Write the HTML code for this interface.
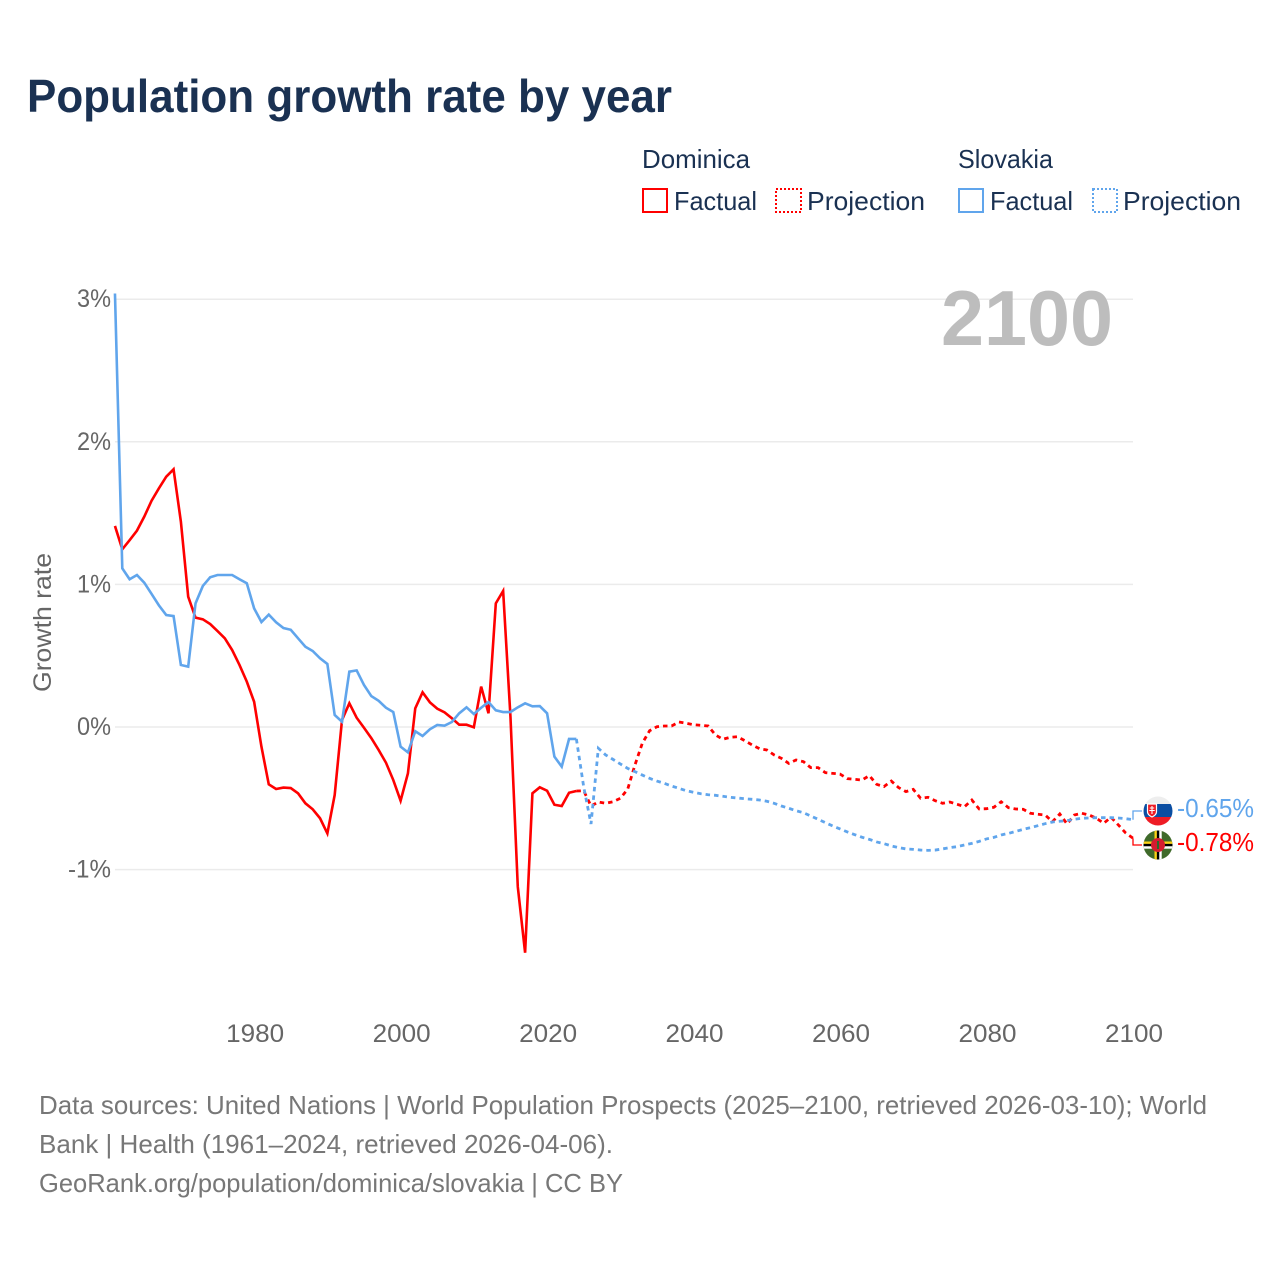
<!DOCTYPE html>
<html lang="en">
<head>
<meta charset="utf-8">
<title>Population growth rate by year</title>
<style>
html,body{margin:0;padding:0;background:#fff;}
svg{display:block;font-family:"Liberation Sans",sans-serif;}
</style>
</head>
<body>
<svg id="chart" xmlns="http://www.w3.org/2000/svg" width="1280" height="1280" viewBox="0 0 1280 1280">
  <text x="27" y="112" font-size="46" font-weight="700" fill="#1a3152" textLength="645" lengthAdjust="spacingAndGlyphs">Population growth rate by year</text>

  <g fill="#1a3152" font-size="26">
    <text x="642" y="168" textLength="108" lengthAdjust="spacingAndGlyphs">Dominica</text>
    <text x="958" y="168" textLength="95" lengthAdjust="spacingAndGlyphs">Slovakia</text>
    <g>
      <rect x="643" y="189" width="24" height="23" fill="none" stroke="#ff0000" stroke-width="2"/>
      <text x="674" y="210" textLength="83" lengthAdjust="spacingAndGlyphs">Factual</text>
    </g>
    <g>
      <rect x="776" y="189" width="25" height="23" fill="none" stroke="#ff0000" stroke-width="2" stroke-dasharray="2 2"/>
      <text x="807" y="210" textLength="118" lengthAdjust="spacingAndGlyphs">Projection</text>
    </g>
    <g>
      <rect x="959" y="189" width="24" height="23" fill="none" stroke="#60a5ec" stroke-width="2"/>
      <text x="990" y="210" textLength="83" lengthAdjust="spacingAndGlyphs">Factual</text>
    </g>
    <g>
      <rect x="1093" y="189" width="24" height="23" fill="none" stroke="#60a5ec" stroke-width="2" stroke-dasharray="2 2"/>
      <text x="1123" y="210" textLength="118" lengthAdjust="spacingAndGlyphs">Projection</text>
    </g>
  </g>

  <g id="grid"></g>
  <text x="941" y="345" font-size="78" font-weight="700" fill="#bdbdbd" textLength="172" lengthAdjust="spacingAndGlyphs">2100</text>
  <g id="yticks" fill="#666" font-size="25"></g>
  <g id="xticks" fill="#666" font-size="25"></g>
  <text transform="translate(51,692) rotate(-90)" font-size="25" fill="#666" textLength="139" lengthAdjust="spacingAndGlyphs">Growth rate</text>
  <g id="series"></g>

  <defs>
    <clipPath id="flag-sk-clip"><circle cx="1158" cy="811" r="14.5"/></clipPath>
    <clipPath id="flag-dm-clip"><circle cx="1158" cy="845" r="14.5"/></clipPath>
  </defs>
  <g id="connectors" fill="none" stroke-width="1.3"></g>
  <g clip-path="url(#flag-sk-clip)">
    <rect x="1143" y="796" width="30" height="8" fill="#eeeeee"/>
    <rect x="1143" y="804" width="30" height="13" fill="#0b4ea2"/>
    <rect x="1143" y="817" width="30" height="10" fill="#ee1c25"/>
    <path d="M1147.5 804h9v8c0 2.500-2.500 4-4.500 5c-2-1-4.500-2.500-4.500-5z" fill="#ee1c25" stroke="#fff" stroke-width="1.2"/>
    <path d="M1152 806v8M1149.800 808h4.400M1149.300 810.500h5.400" stroke="#fff" stroke-width="1.1" fill="none"/>
  </g>
  <g clip-path="url(#flag-dm-clip)">
    <rect x="1143" y="830" width="30" height="30" fill="#3f6a2a"/>
    <rect x="1154.500" y="830" width="2.400" height="30" fill="#fcd116"/>
    <rect x="1156.900" y="830" width="2.400" height="30" fill="#000"/>
    <rect x="1159.300" y="830" width="2.400" height="30" fill="#fff"/>
    <rect x="1143" y="841.500" width="30" height="2.400" fill="#fcd116"/>
    <rect x="1143" y="843.900" width="30" height="2.400" fill="#000"/>
    <rect x="1143" y="846.300" width="30" height="2.400" fill="#fff"/>
    <circle cx="1158" cy="845" r="7" fill="#d41c30"/>
    <rect x="1157" y="841" width="2" height="8" fill="#2a6a2a"/>
  </g>
  <text x="1177" y="817" font-size="26" fill="#60a5ec" textLength="77" lengthAdjust="spacingAndGlyphs">-0.65%</text>
  <text x="1177" y="851" font-size="26" fill="#ff0000" textLength="77" lengthAdjust="spacingAndGlyphs">-0.78%</text>

  <g fill="#777" font-size="26">
    <text x="39" y="1114" textLength="1168" lengthAdjust="spacingAndGlyphs">Data sources: United Nations | World Population Prospects (2025–2100, retrieved 2026-03-10); World</text>
    <text x="39" y="1153" textLength="574" lengthAdjust="spacingAndGlyphs">Bank | Health (1961–2024, retrieved 2026-04-06).</text>
    <text x="39" y="1192" textLength="584" lengthAdjust="spacingAndGlyphs">GeoRank.org/population/dominica/slovakia | CC BY</text>
  </g>
</svg>
<script>
const yTickValues = [3, 2, 1, 0, -1];
const xTickYears = [1980, 2000, 2020, 2040, 2060, 2080, 2100];
const factualStartYear = 1961;
const projectionStartYear = 2024;

const dominicaFactual = [1.41,1.246,1.31,1.377,1.475,1.587,1.674,1.755,1.807,1.44,0.914,0.767,0.755,0.722,0.673,0.622,0.54,0.435,0.318,0.177,-0.138,-0.402,-0.435,-0.425,-0.428,-0.465,-0.535,-0.577,-0.64,-0.746,-0.477,0.049,0.166,0.065,-0.005,-0.078,-0.161,-0.25,-0.372,-0.517,-0.325,0.131,0.243,0.173,0.129,0.103,0.061,0.016,0.016,-0.002,0.283,0.096,0.867,0.954,0.072,-1.12,-1.583,-0.465,-0.423,-0.447,-0.545,-0.554,-0.461,-0.449];
const dominicaProjection = [-0.449,-0.447,-0.554,-0.526,-0.535,-0.524,-0.5,-0.437,-0.266,-0.114,-0.026,0.002,0.007,0.007,0.035,0.026,0.016,0.012,0.007,-0.056,-0.086,-0.072,-0.068,-0.096,-0.126,-0.152,-0.161,-0.196,-0.22,-0.255,-0.231,-0.243,-0.285,-0.285,-0.32,-0.325,-0.33,-0.362,-0.367,-0.372,-0.341,-0.402,-0.418,-0.379,-0.425,-0.453,-0.437,-0.5,-0.493,-0.517,-0.535,-0.526,-0.542,-0.559,-0.512,-0.575,-0.573,-0.563,-0.524,-0.566,-0.575,-0.577,-0.605,-0.612,-0.617,-0.664,-0.61,-0.68,-0.617,-0.605,-0.617,-0.64,-0.675,-0.633,-0.687,-0.743,-0.78];
const slovakiaFactual = [3.04,1.113,1.036,1.066,1.012,0.933,0.853,0.785,0.778,0.435,0.423,0.867,0.989,1.05,1.066,1.066,1.066,1.036,1.008,0.832,0.736,0.788,0.734,0.694,0.682,0.622,0.563,0.533,0.482,0.442,0.084,0.037,0.388,0.397,0.295,0.217,0.184,0.135,0.105,-0.138,-0.178,-0.03,-0.063,-0.016,0.014,0.009,0.035,0.096,0.138,0.091,0.135,0.175,0.117,0.105,0.105,0.138,0.166,0.145,0.147,0.096,-0.208,-0.278,-0.084,-0.084];
const slovakiaProjection = [-0.084,-0.42,-0.68,-0.149,-0.196,-0.227,-0.259,-0.29,-0.313,-0.337,-0.36,-0.379,-0.395,-0.414,-0.43,-0.447,-0.458,-0.468,-0.475,-0.479,-0.486,-0.493,-0.498,-0.503,-0.507,-0.512,-0.521,-0.535,-0.554,-0.57,-0.587,-0.601,-0.624,-0.647,-0.671,-0.694,-0.715,-0.736,-0.755,-0.773,-0.788,-0.806,-0.818,-0.834,-0.846,-0.855,-0.858,-0.863,-0.865,-0.863,-0.855,-0.846,-0.839,-0.827,-0.816,-0.802,-0.785,-0.774,-0.757,-0.746,-0.732,-0.718,-0.706,-0.692,-0.678,-0.666,-0.661,-0.657,-0.647,-0.64,-0.638,-0.636,-0.636,-0.636,-0.638,-0.643,-0.65];

const NS = 'http://www.w3.org/2000/svg';
const RED = '#ff0000';
const BLUE = '#60a5ec';

function xScale(year) { return 1133 - (2100 - year) * 7.324; }
function yScale(value) { return 727 - value * 142.6; }

function linePath(values, startYear) {
  return values.map(function (v, i) {
    return (i ? 'L' : 'M') + xScale(startYear + i).toFixed(2) + ' ' + yScale(v).toFixed(2);
  }).join('');
}

const gridGroup = document.getElementById('grid');
const yTickGroup = document.getElementById('yticks');
yTickValues.forEach(function (v) {
  const line = document.createElementNS(NS, 'line');
  
  
  line.setAttribute('x1', xScale(factualStartYear));
  line.setAttribute('x2', xScale(2100));
  line.setAttribute('y1', yScale(v));
  line.setAttribute('y2', yScale(v));
  line.setAttribute('stroke', '#ebebeb');
  line.setAttribute('stroke-width', '1.5');
  gridGroup.appendChild(line);

  const label = document.createElementNS(NS, 'text');
  
  
  label.setAttribute('x', 111);
  label.setAttribute('y', yScale(v) + 8);
  label.setAttribute('text-anchor', 'end');
  label.setAttribute('textLength', v < 0 ? 43 : 34);
  label.setAttribute('lengthAdjust', 'spacingAndGlyphs');
  label.textContent = v + '%';
  yTickGroup.appendChild(label);
});

const xTickGroup = document.getElementById('xticks');
xTickYears.forEach(function (yr) {
  const label = document.createElementNS(NS, 'text');
  
  
  label.setAttribute('x', xScale(yr) + 1);
  label.setAttribute('y', 1042);
  label.setAttribute('text-anchor', 'middle');
  label.setAttribute('textLength', 58);
  label.setAttribute('lengthAdjust', 'spacingAndGlyphs');
  label.textContent = yr;
  xTickGroup.appendChild(label);
});

const seriesGroup = document.getElementById('series');

const dominicaFactualLine = document.createElementNS(NS, 'path');


dominicaFactualLine.setAttribute('d', linePath(dominicaFactual, factualStartYear));
dominicaFactualLine.setAttribute('fill', 'none');
dominicaFactualLine.setAttribute('stroke', RED);
dominicaFactualLine.setAttribute('stroke-width', '2.6');
seriesGroup.appendChild(dominicaFactualLine);

const slovakiaFactualLine = document.createElementNS(NS, 'path');


slovakiaFactualLine.setAttribute('d', linePath(slovakiaFactual, factualStartYear));
slovakiaFactualLine.setAttribute('fill', 'none');
slovakiaFactualLine.setAttribute('stroke', BLUE);
slovakiaFactualLine.setAttribute('stroke-width', '2.6');
seriesGroup.appendChild(slovakiaFactualLine);

const dominicaProjectionLine = document.createElementNS(NS, 'path');


dominicaProjectionLine.setAttribute('d', linePath(dominicaProjection, projectionStartYear));
dominicaProjectionLine.setAttribute('fill', 'none');
dominicaProjectionLine.setAttribute('stroke', RED);
dominicaProjectionLine.setAttribute('stroke-width', '2.8');
dominicaProjectionLine.setAttribute('stroke-dasharray', '4.5 4');
seriesGroup.appendChild(dominicaProjectionLine);

const slovakiaProjectionLine = document.createElementNS(NS, 'path');


slovakiaProjectionLine.setAttribute('d', linePath(slovakiaProjection, projectionStartYear));
slovakiaProjectionLine.setAttribute('fill', 'none');
slovakiaProjectionLine.setAttribute('stroke', BLUE);
slovakiaProjectionLine.setAttribute('stroke-width', '2.8');
slovakiaProjectionLine.setAttribute('stroke-dasharray', '4.5 4');
seriesGroup.appendChild(slovakiaProjectionLine);

const connectorGroup = document.getElementById('connectors');

const slovakiaConnector = document.createElementNS(NS, 'path');


slovakiaConnector.setAttribute('d', 'M' + xScale(2100) + ' ' + yScale(slovakiaProjection[slovakiaProjection.length - 1]) + 'V811H1142');
slovakiaConnector.setAttribute('stroke', BLUE);
connectorGroup.appendChild(slovakiaConnector);

const dominicaConnector = document.createElementNS(NS, 'path');


dominicaConnector.setAttribute('d', 'M' + xScale(2100) + ' ' + yScale(dominicaProjection[dominicaProjection.length - 1]) + 'V845H1142');
dominicaConnector.setAttribute('stroke', RED);
connectorGroup.appendChild(dominicaConnector);
</script>
</body>
</html>
